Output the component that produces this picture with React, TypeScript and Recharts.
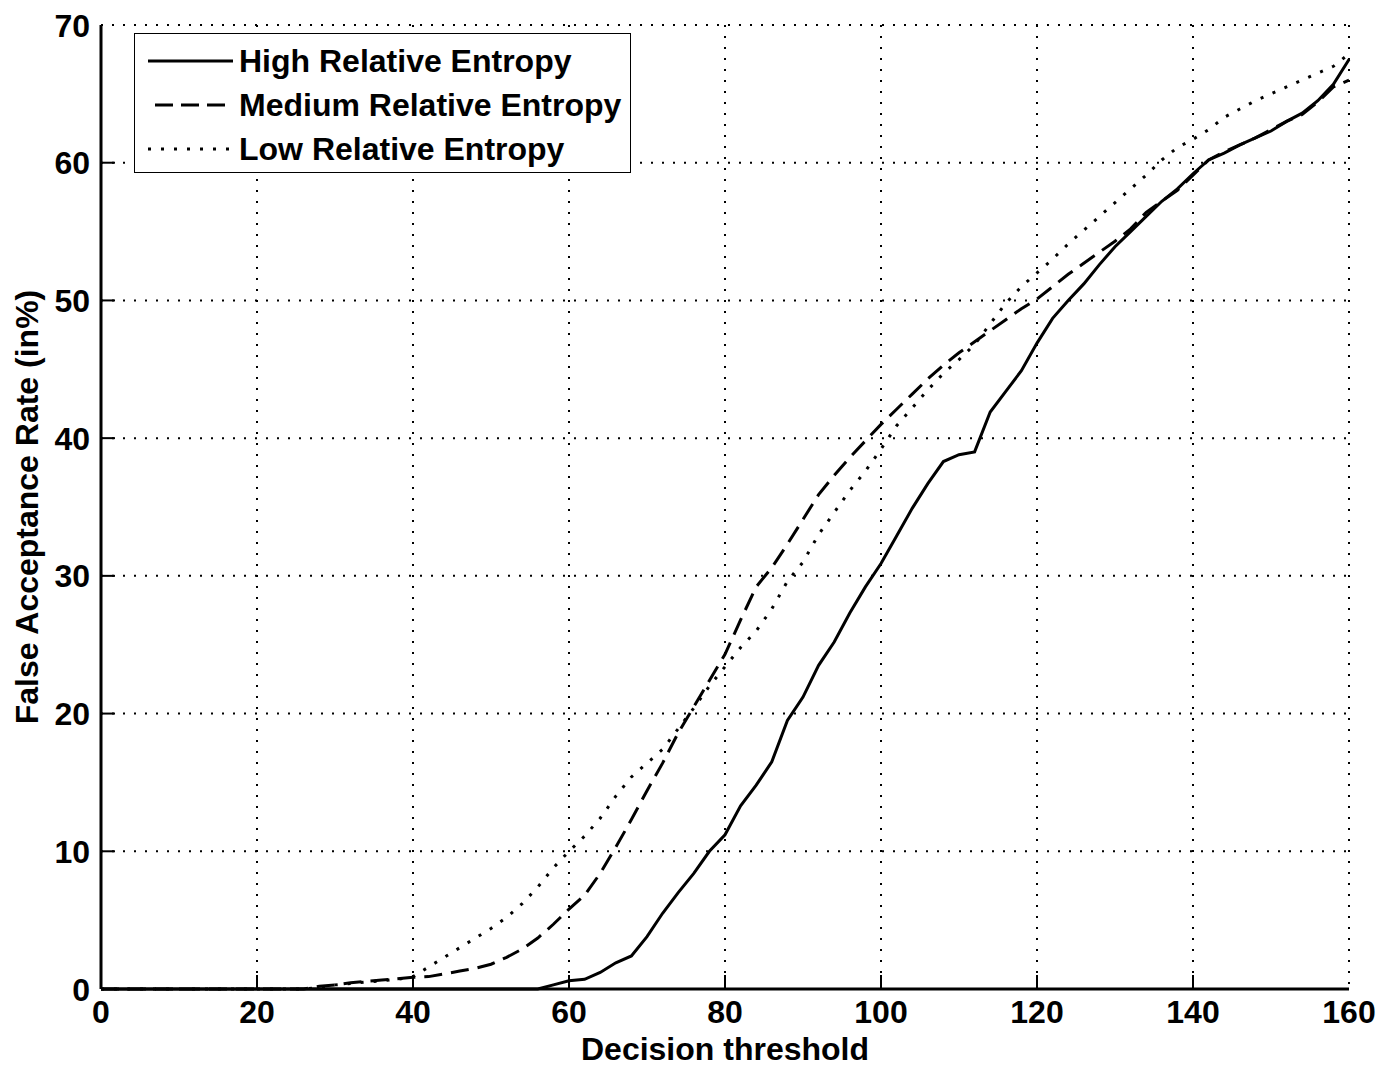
import React from 'react';
import { CartesianGrid, Label, Line, LineChart, XAxis, YAxis } from 'recharts';

const thresholds = [
  0, 2, 4, 6, 8, 10, 12, 14, 16, 18, 20, 22, 24, 26, 28, 30, 32, 34, 36, 38, 40,
  42, 44, 46, 48, 50, 52, 54, 56, 58, 60, 62, 64, 66, 68, 70, 72, 74, 76, 78, 80,
  82, 84, 86, 88, 90, 92, 94, 96, 98, 100, 102, 104, 106, 108, 110, 112, 114, 116, 118, 120,
  122, 124, 126, 128, 130, 132, 134, 136, 138, 140, 142, 144, 146, 148, 150, 152, 154, 156, 158, 160,
];

const highEntropy = [
  0, 0, 0, 0, 0, 0, 0, 0, 0, 0, 0, 0, 0, 0, 0, 0, 0, 0, 0, 0, 0,
  0, 0, 0, 0, 0, 0, 0, 0, 0.3, 0.6, 0.7, 1.2, 1.9, 2.4, 3.8, 5.5, 7.0, 8.4, 10.0, 11.2,
  13.3, 14.8, 16.5, 19.5, 21.2, 23.5, 25.2, 27.3, 29.2, 30.9, 32.9, 34.9, 36.7, 38.3, 38.8, 39.0, 41.9, 43.4, 44.9, 46.9,
  48.7, 50.0, 51.2, 52.6, 53.9, 55.0, 56.1, 57.2, 58.1, 59.2, 60.2, 60.7, 61.3, 61.8, 62.3, 63.0, 63.6, 64.5, 65.7, 67.5,
];

const mediumEntropy = [
  0, 0, 0, 0, 0, 0, 0, 0, 0, 0, 0, 0, 0, 0, 0.2, 0.3, 0.45, 0.55, 0.65, 0.75, 0.85,
  0.9, 1.1, 1.3, 1.5, 1.8, 2.3, 2.9, 3.7, 4.7, 5.8, 6.8, 8.4, 10.3, 12.3, 14.4, 16.4, 18.6, 20.5, 22.4, 24.3,
  26.8, 29.2, 30.6, 32.3, 34.1, 35.9, 37.3, 38.6, 39.8, 41.0, 42.1, 43.2, 44.3, 45.3, 46.2, 47.0, 47.8, 48.6, 49.4, 50.1,
  51.0, 51.9, 52.7, 53.5, 54.3, 55.2, 56.4, 57.2, 58.0, 59.1, 60.2, 60.8, 61.3, 61.8, 62.4, 63.0, 63.5, 64.4, 65.5, 66.0,
];

const lowEntropy = [
  0, 0, 0, 0, 0, 0, 0, 0, 0, 0, 0, 0, 0, 0, 0.1, 0.3, 0.4, 0.5, 0.6, 0.7, 0.9,
  1.6, 2.3, 3.0, 3.7, 4.4, 5.2, 6.2, 7.4, 8.8, 10.0, 11.1, 12.4, 14.0, 15.4, 16.4, 17.4, 18.9, 20.4, 22.0, 23.4,
  24.8, 26.0, 27.6, 29.6, 31.0, 33.0, 34.6, 36.2, 37.6, 39.2, 40.9, 42.2, 43.5, 44.7, 45.7, 46.8, 48.3, 49.8, 51.0, 52.0,
  53.0, 54.1, 55.1, 56.1, 57.1, 58.1, 59.1, 60.2, 61.1, 61.7, 62.4, 63.3, 63.9, 64.5, 65.0, 65.5, 66.0, 66.5, 67.0, 67.9,
];

const xTicks = [0, 20, 40, 60, 80, 100, 120, 140, 160];
const yTicks = [0, 10, 20, 30, 40, 50, 60, 70];

const seriesNames = ['High Relative Entropy', 'Medium Relative Entropy', 'Low Relative Entropy'];
const seriesDash = [undefined, '18 9', '3 10'];

const data = thresholds.map((t, i) => ({
  t,
  high: highEntropy[i],
  medium: mediumEntropy[i],
  low: lowEntropy[i],
}));

const FONT = '"Liberation Sans", Arial, Helvetica, sans-serif';
const TICK_LEN = 14;

const XTick = (props: any) => {
  const { x, y, payload } = props;
  const axisY = y - 10;
  return (
    <g>
      {payload.value !== 0 && payload.value !== 160 && (
        <line x1={x} x2={x} y1={axisY} y2={axisY - TICK_LEN} stroke='#000' strokeWidth={2} />
      )}
      <text x={x} y={y} dy='0.75em' textAnchor='middle' fontSize={32} fontWeight='bold' fontFamily={FONT} fill='#000'>
        {payload.value}
      </text>
    </g>
  );
};

const YTick = (props: any) => {
  const { x, y, payload } = props;
  const axisX = x + 11;
  return (
    <g>
      {payload.value !== 0 && payload.value !== 70 && (
        <line x1={axisX} x2={axisX + TICK_LEN} y1={y} y2={y} stroke='#000' strokeWidth={2} />
      )}
      <text x={x} y={y} dy='0.36em' textAnchor='end' fontSize={32} fontWeight='bold' fontFamily={FONT} fill='#000'>
        {payload.value}
      </text>
    </g>
  );
};

// legend drawn as an overlay so it does not take space from the plot
const LegendBox = () => (
  <div
    style={{
      position: 'absolute',
      left: 134,
      top: 33,
      width: 497,
      height: 140,
      border: '1.5px solid #000',
      background: '#fff',
      boxSizing: 'border-box',
      paddingTop: 5,
    }}
  >
    {seriesNames.map((name, i) => (
      <div key={name} style={{ display: 'flex', alignItems: 'center', height: 44 }}>
        <svg width={104} height={20}>
          <line
            x1={i === 1 ? 20 : 13}
            x2={98}
            y1={10}
            y2={10}
            stroke='#000'
            strokeWidth={3}
            strokeDasharray={i === 1 ? '18 8' : seriesDash[i]}
          />
        </svg>
        <span style={{ fontFamily: FONT, fontWeight: 'bold', fontSize: 32, color: '#000', lineHeight: '44px' }}>
          {name}
        </span>
      </div>
    ))}
  </div>
);

export default function App() {
  return (
    <div style={{ position: 'absolute', left: 0, top: 0, width: 1387, height: 1066, background: '#fff' }}>
      <LineChart width={1387} height={1066} data={data} margin={{ top: 25, right: 38, bottom: 0, left: 0 }}>
        <CartesianGrid stroke='#000' strokeWidth={2} strokeDasharray='2 9' />
        <XAxis
          dataKey='t'
          type='number'
          domain={[0, 160]}
          ticks={xTicks}
          height={77}
          tickSize={0}
          tickMargin={10}
          tick={<XTick />}
          axisLine={{ stroke: '#000', strokeWidth: 3 }}
          tickLine={false}
          interval={0}
        >
          <Label
            value='Decision threshold'
            position='insideBottom'
            offset={6}
            style={{ fontFamily: FONT, fontWeight: 'bold', fontSize: 32, fill: '#000' }}
          />
        </XAxis>
        <YAxis
          type='number'
          domain={[0, 70]}
          ticks={yTicks}
          width={101}
          tickSize={0}
          tickMargin={11}
          tick={<YTick />}
          axisLine={{ stroke: '#000', strokeWidth: 3 }}
          tickLine={false}
          interval={0}
        >
          <Label
            value='False Acceptance Rate (in%)'
            angle={-90}
            position='insideLeft'
            offset={0}
            dx={27}
            style={{ fontFamily: FONT, fontWeight: 'bold', fontSize: 32, fill: '#000', textAnchor: 'middle' }}
          />
        </YAxis>
        <Line type='linear' dataKey='high' name={seriesNames[0]} stroke='#000' strokeWidth={3} dot={false} isAnimationActive={false} />
        <Line type='linear' dataKey='medium' name={seriesNames[1]} stroke='#000' strokeWidth={3} strokeDasharray={seriesDash[1]} dot={false} isAnimationActive={false} />
        <Line type='linear' dataKey='low' name={seriesNames[2]} stroke='#000' strokeWidth={3} strokeDasharray={seriesDash[2]} dot={false} isAnimationActive={false} />
      </LineChart>
      <LegendBox />
    </div>
  );
}
